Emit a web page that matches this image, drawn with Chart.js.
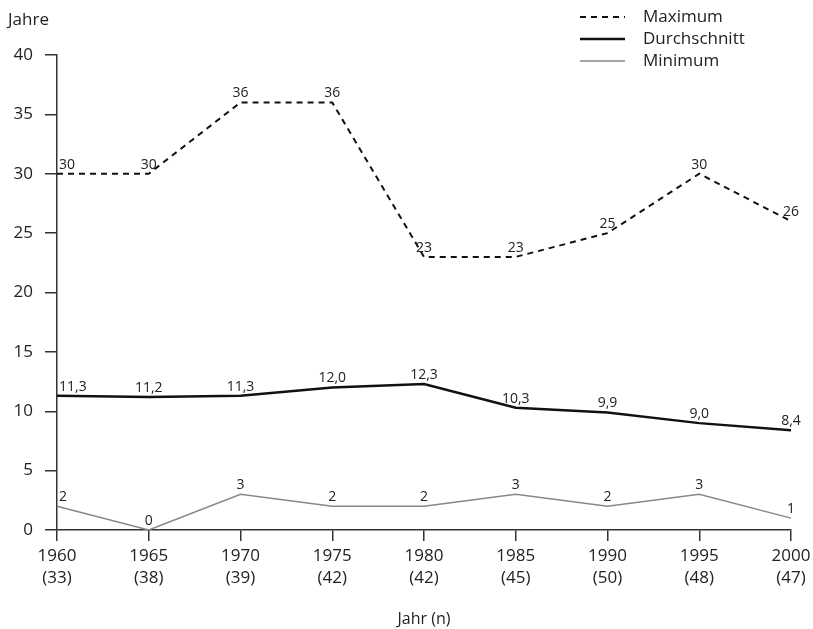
<!DOCTYPE html>
<html><head><meta charset="utf-8">
<script src="https://cdn.jsdelivr.net/npm/chart.js@4"></script>
<style>html,body{margin:0;padding:0;background:#fff}#wrap{width:813px;height:629px}</style>
</head><body><div id="wrap"><canvas id="c"></canvas></div>
<script>
const years = ['1960','1965','1970','1975','1980','1985','1990','1995','2000'];
const counts = ['(33)','(38)','(39)','(42)','(42)','(45)','(50)','(48)','(47)'];
const maximum = [30,30,36,36,23,23,25,30,26];
const durchschnitt = [11.3,11.2,11.3,12.0,12.3,10.3,9.9,9.0,8.4];
const minimum = [2,0,3,2,2,3,2,3,1];
const seriesNames = ['Maximum','Durchschnitt','Minimum'];
const yTitle = 'Jahre';
const xTitle = 'Jahr (n)';

const FONT = "'Open Sans', 'Noto Sans', sans-serif";
const fmt = (v, dec) => dec ? v.toFixed(1).replace('.', ',') : String(v);

const labelPlugin = {
  id: 'labels',
  afterDatasetsDraw(chart) {
    const ctx = chart.ctx;
    ctx.save();
    ctx.font = '14px ' + FONT;
    ctx.fillStyle = '#222';
    ctx.textBaseline = 'bottom';
    chart.data.datasets.forEach((ds, di) => {
      const meta = chart.getDatasetMeta(di);
      meta.data.forEach((pt, i) => {
        const txt = fmt(ds.data[i], ds.decimals);
        if (i === 0) { ctx.textAlign = 'left'; ctx.fillText(txt, pt.x + 2, pt.y - 2); }
        else { ctx.textAlign = 'center'; ctx.fillText(txt, pt.x, pt.y - 2); }
      });
    });
    // legend
    ctx.font = '17px ' + FONT;
    ctx.textAlign = 'left';
    ctx.textBaseline = 'middle';
    const ys = [17, 39, 61];
    chart.data.datasets.forEach((ds, di) => {
      ctx.beginPath();
      ctx.strokeStyle = ds.borderColor;
      ctx.lineWidth = ds.borderWidth;
      ctx.setLineDash(ds.borderDash || []);
      ctx.moveTo(580, ys[di]); ctx.lineTo(625, ys[di]);
      ctx.stroke();
      ctx.setLineDash([]);
      ctx.fillStyle = '#222';
      ctx.fillText(ds.label, 643, ys[di]);
    });
    // y title
    ctx.textBaseline = 'alphabetic';
    ctx.fillText(yTitle, 8, 25);
    ctx.restore();
  }
};

new Chart(document.getElementById('c'), {
  type: 'line',
  data: {
    labels: years.map((y, i) => [y, counts[i]]),
    datasets: [
      {label: seriesNames[0], data: maximum, borderColor: '#111', borderWidth: 2, borderDash: [6,5], pointRadius: 0, tension: 0, decimals: false},
      {label: seriesNames[1], data: durchschnitt, borderColor: '#111', borderWidth: 2.5, pointRadius: 0, tension: 0, decimals: true},
      {label: seriesNames[2], data: minimum, borderColor: '#888', borderWidth: 1.5, pointRadius: 0, tension: 0, decimals: false}
    ]
  },
  options: {
    responsive: true, maintainAspectRatio: false, animation: false,
    layout: {padding: {top: 55, right: 22, left: 0, bottom: 0}},
    plugins: {legend: {display: false}, tooltip: {enabled: false}},
    scales: {
      x: {
        offset: false,
        grid: {drawOnChartArea: false, drawTicks: true, tickLength: 11, color: '#333', lineWidth: 1.5},
        border: {display: true, color: '#333', width: 1.5},
        ticks: {color: '#222', font: {family: FONT, size: 17, lineHeight: 1.25}, padding: 5, maxRotation: 0, autoSkip: false},
        title: {display: true, text: xTitle, color: '#222', font: {family: FONT, size: 16}, padding: {top: 20, bottom: 0}},
        afterFit(s) { s.height = 99; s.paddingRight = 0; s.paddingLeft = 0; }
      },
      y: {
        min: 0, max: 40,
        grid: {drawOnChartArea: false, drawTicks: true, tickLength: 12, color: '#333', lineWidth: 1.5},
        border: {display: true, color: '#333', width: 1.5},
        ticks: {stepSize: 5, color: '#222', font: {family: FONT, size: 17}, padding: 12},
        afterFit(s) { s.width = 57; }
      }
    }
  },
  plugins: [labelPlugin]
});
</script></body></html>
